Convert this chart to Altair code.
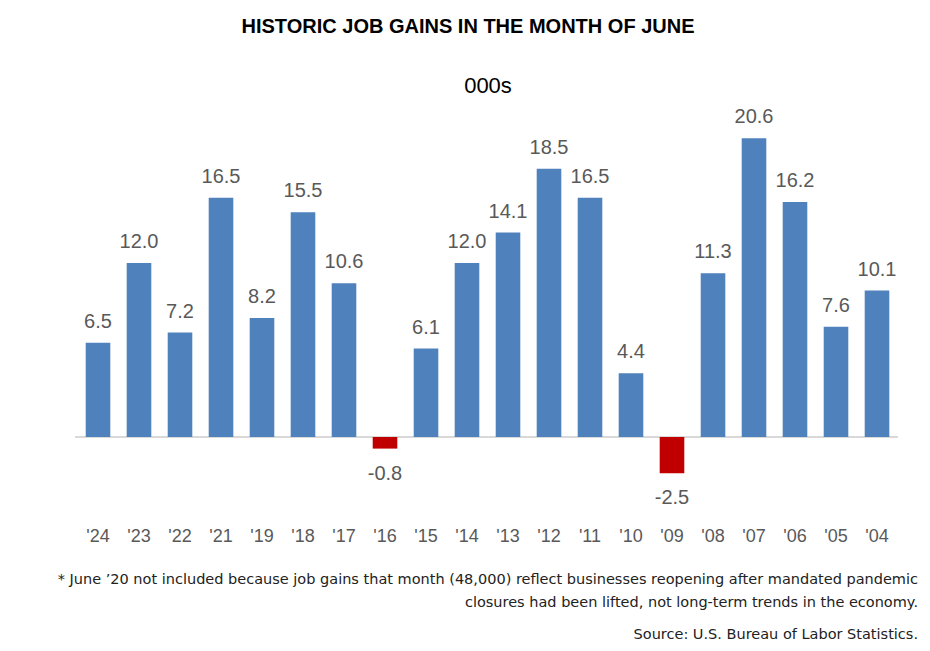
import altair as alt
import pandas as pd

years = ["'24", "'23", "'22", "'21", "'19", "'18", "'17", "'16", "'15", "'14",
         "'13", "'12", "'11", "'10", "'09", "'08", "'07", "'06", "'05", "'04"]
gains = [6.5, 12.0, 7.2, 16.5, 8.2, 15.5, 10.6, -0.8, 6.1, 12.0,
         14.1, 18.5, 16.5, 4.4, -2.5, 11.3, 20.6, 16.2, 7.6, 10.1]

title_text = "HISTORIC JOB GAINS IN THE MONTH OF JUNE"
unit_text = "000s"
footnotes = [
    "* June \u201920 not included because job gains that month (48,000) reflect businesses reopening after mandated pandemic",
    "closures had been lifted, not long-term trends in the economy.",
    "Source: U.S. Bureau of Labor Statistics.",
]

df = pd.DataFrame({"year": years, "gain": gains})
df["label"] = df["gain"].map(lambda v: f"{v:.1f}")
df["sign"] = df["gain"].map(lambda v: "neg" if v < 0 else "pos")

xscale = alt.Scale(domain=years, range=[69.5, 889.5], paddingInner=0.4, paddingOuter=0.2)
yscale = alt.Scale(domain=[-5, 22], range=[501.5, 110], nice=False, zero=False)

base = alt.Chart(df)

bars = base.mark_bar().encode(
    x=alt.X("year:N", scale=xscale, axis=None, sort=years),
    y=alt.Y("gain:Q", scale=yscale, axis=None),
    y2=alt.datum(0),
    color=alt.Color("sign:N", scale=alt.Scale(domain=["pos", "neg"], range=["#4f81bd", "#c00000"]), legend=None),
)

pos_labels = base.transform_filter("datum.gain >= 0").mark_text(
    baseline="bottom", dy=-11, fontSize=20, font="Liberation Sans", color="#595959"
).encode(
    x=alt.X("year:N", scale=xscale, axis=None, sort=years),
    y=alt.Y("gain:Q", scale=yscale, axis=None),
    text="label:N",
)

neg_labels = base.transform_filter("datum.gain < 0").mark_text(
    baseline="top", dy=15, fontSize=20, font="Liberation Sans", color="#595959"
).encode(
    x=alt.X("year:N", scale=xscale, axis=None, sort=years),
    y=alt.Y("gain:Q", scale=yscale, axis=None),
    text="label:N",
)

xlabels = base.mark_text(
    baseline="middle", fontSize=18, font="Liberation Sans", color="#595959"
).encode(
    x=alt.X("year:N", scale=xscale, axis=None, sort=years),
    y=alt.value(529),
    text="year:N",
)

zero_line = alt.Chart(pd.DataFrame({"z": [0]})).mark_rule(color="#d9d9d9", strokeWidth=2).encode(
    x=alt.value(67), x2=alt.value(890),
    y=alt.Y("z:Q", scale=yscale, axis=None),
)

title = alt.Chart(pd.DataFrame({"t": [title_text]})).mark_text(
    fontSize=20, fontWeight="bold", font="Liberation Sans", color="#000000", baseline="middle"
).encode(x=alt.value(460), y=alt.value(19), text="t:N")

unit = alt.Chart(pd.DataFrame({"t": [unit_text]})).mark_text(
    fontSize=22, font="Liberation Sans", color="#000000", baseline="middle"
).encode(x=alt.value(480), y=alt.value(78), text="t:N")

foot_df = pd.DataFrame({"t": footnotes, "ypos": [572, 595, 627]})
foot = alt.Chart(foot_df).mark_text(
    fontSize=14.5, font="DejaVu Sans", color="#222222", align="right", baseline="middle"
).encode(x=alt.value(910), y=alt.Y("ypos:Q", scale=None, axis=None), text="t:N")

chart = alt.layer(zero_line, bars, pos_labels, neg_labels, xlabels, title, unit, foot).properties(
    width=914, height=635, autosize=alt.AutoSizeParams(type="none"), padding=0
).configure_view(stroke=None).resolve_scale(y="independent")

chart.save("out.html", embed_options={"renderer": "svg", "actions": False})
